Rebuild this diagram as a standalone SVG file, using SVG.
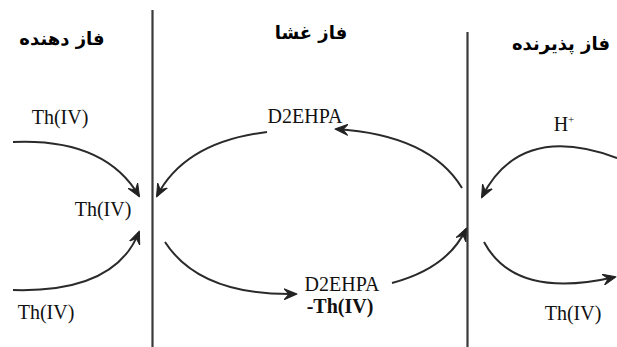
<svg xmlns="http://www.w3.org/2000/svg" width="617" height="347" viewBox="0 0 617 347">
<style>
.wall{stroke:#3a3a3a;stroke-width:2.2;fill:none}
.arr{stroke:#2a2a2a;stroke-width:2;fill:none;marker-end:url(#ah)}
.t{font-family:"Liberation Serif","Times New Roman",serif;font-size:20px;fill:#111;text-anchor:middle}
.b{font-weight:bold}
.fa{font-family:"DejaVu Sans","Noto Sans",sans-serif;font-weight:bold;font-size:18px;fill:#000;text-anchor:middle}
</style>
<defs>
<marker id="ah" viewBox="0 0 14 12" refX="12" refY="6" markerWidth="14" markerHeight="12" markerUnits="userSpaceOnUse" orient="auto">
<path d="M0,0.5 L13,6 L0,11.5 L5,6 Z" fill="#222" stroke="#222" stroke-width="1" stroke-linejoin="round"/>
</marker>
</defs>
<rect width="617" height="347" fill="#fff"/>
<g id="walls">
<line class="wall" x1="152.5" y1="10" x2="152.5" y2="347"/>
<line class="wall" x1="467.5" y1="32" x2="467.5" y2="347"/>
</g>
<g id="connectors">
<path class="arr" d="M13,142 Q105,138 139,196"/>
<path class="arr" d="M13,290 Q115,293 139,232"/>
<path class="arr" d="M267,132 Q185,142 157,196"/>
<path class="arr" d="M165,242 Q200,296 296,294"/>
<path class="arr" d="M462,188 Q430,135 336,129"/>
<path class="arr" d="M392,283 Q448,268 466,229"/>
<path class="arr" d="M617,158 Q520,122 482,197"/>
<path class="arr" d="M484,242 Q515,300 615,277"/>
</g>
<g id="donor-phase">
<text class="fa" x="62" y="45" direction="rtl">فاز دهنده</text>
</g>
<g id="membrane-phase">
<text class="fa" x="311" y="39" direction="rtl">فاز غشا</text>
</g>
<g id="receiving-phase">
<text class="fa" x="561" y="50" direction="rtl">فاز پذیرنده</text>
</g>
<g id="th-top-left"><text class="t" x="60" y="124">Th(IV)</text></g>
<g id="th-mid-left"><text class="t" x="103" y="216">Th(IV)</text></g>
<g id="th-bottom-left"><text class="t" x="46" y="319">Th(IV)</text></g>
<g id="d2ehpa-top"><text class="t" x="305" y="123">D2EHPA</text></g>
<g id="d2ehpa-complex">
<text class="t" x="342" y="291">D2EHPA</text>
<text class="t b" x="340" y="313">-Th(IV)</text>
</g>
<g id="h-plus"><text class="t" x="564" y="131">H<tspan font-size="11" dy="-8">+</tspan></text></g>
<g id="th-bottom-right"><text class="t" x="573" y="320">Th(IV)</text></g>
</svg>
